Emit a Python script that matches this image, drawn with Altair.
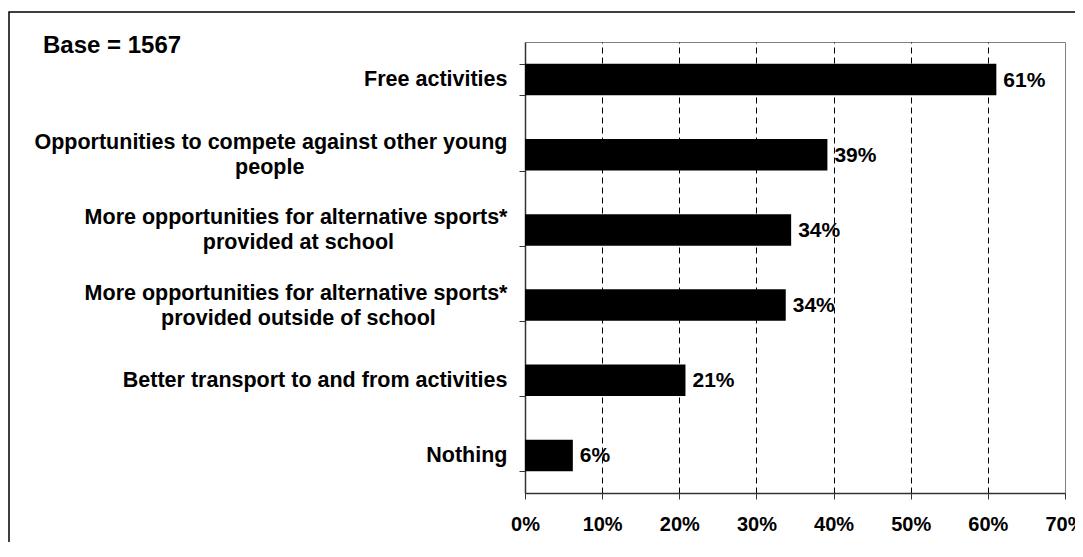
import altair as alt
import pandas as pd

FONT = "Liberation Sans"

CATEGORY_LINES = [
    ["Free activities"],
    ["Opportunities to compete against other young", "people"],
    ["More opportunities for alternative sports*", "provided at school"],
    ["More opportunities for alternative sports*", "provided outside of school"],
    ["Better transport to and from activities"],
    ["Nothing"],
]
VALUES = [61.1, 39.2, 34.5, 33.8, 20.8, 6.2]
VALUE_LABELS = ["61%", "39%", "34%", "34%", "21%", "6%"]
X_TICKS = [0, 10, 20, 30, 40, 50, 60, 70]
BASE_TEXT = "Base = 1567"

# Helvetica/Arial Bold advance widths (1/1000 em) used to centre the second label line
W = {" ": 278, "*": 389, "%": 889, "a": 556, "b": 611, "c": 556, "d": 611, "e": 556,
     "f": 333, "g": 611, "h": 611, "i": 278, "j": 278, "k": 556, "l": 278, "m": 889,
     "n": 611, "o": 611, "p": 611, "q": 611, "r": 389, "s": 556, "t": 333, "u": 611,
     "v": 556, "w": 778, "x": 556, "y": 556, "z": 500, "B": 722, "F": 611, "M": 833,
     "N": 722, "O": 778}


def text_width(s):
    return sum(W.get(ch, 556) for ch in s)


def make_label(lines):
    first = lines[0]
    out = [first]
    for ln in lines[1:]:
        pad = round((text_width(first) - text_width(ln)) / 2 / 278)
        # non-breaking spaces (kept alive by a trailing zero-width space) centre the line
        out.append(ln + "\u00a0" * max(pad, 0) + "\u200b")
    return "|".join(out)


LABELS = [make_label(l) for l in CATEGORY_LINES]

df = pd.DataFrame({"label": LABELS, "value": VALUES, "text": VALUE_LABELS})

y_enc = alt.Y(
    "label:N",
    sort=LABELS,
    scale=alt.Scale(paddingInner=0.58, paddingOuter=0.29),
    axis=alt.Axis(
        title=None,
        labelExpr="isValid(datum.value) ? split(datum.value, '|') : ''",
        labelAlign="right",
        labelBaseline="middle",
        labelFont=FONT,
        labelFontSize=21.5,
        labelFontWeight="bold",
        labelColor="black",
        labelLineHeight=25,
        labelPadding=12,
        labelLimit=0,
        labelOffset=alt.condition("isValid(datum.value) && indexof(datum.value, '|') >= 0",
                                  alt.value(-12), alt.value(0)),
        tickBand="extent",
        tickSize=6,
        tickColor="#333333",
        domainColor="#333333",
        domainWidth=1.5,
        grid=False,
    ),
)

x_enc = alt.X(
    "value:Q",
    scale=alt.Scale(domain=[0, 70], nice=False),
    axis=alt.Axis(
        title=None,
        values=X_TICKS,
        labelExpr="datum.value + '%'",
        labelFont=FONT,
        labelFontSize=20,
        labelFontWeight="bold",
        labelColor="black",
        labelPadding=15,
        labelFlush=False,
        tickSize=6,
        tickColor="#333333",
        domainColor="#333333",
        domainWidth=1.5,
        grid=True,
        gridColor="black",
        gridDash=[6, 4],
        gridWidth=1,
        gridOpacity=alt.condition("datum.value == 0 || datum.value == 70", alt.value(0), alt.value(1)),
    ),
)

bars = alt.Chart(df).mark_bar(color="black").encode(y=y_enc, x=x_enc)

texts = alt.Chart(df).mark_text(
    align="left", baseline="middle", dx=7, dy=1, font=FONT, fontSize=21, fontWeight="bold", color="black"
).encode(y=alt.Y("label:N", sort=LABELS), x="value:Q", text="text:N")

frame = alt.Chart(alt.Data(values=[{"f": 1}])).mark_rect(
    fill="transparent", stroke="black", strokeWidth=1.5, clip=False
).encode(x=alt.value(-516), x2=alt.value(600), y=alt.value(-30), y2=alt.value(560))

base_note = alt.Chart(alt.Data(values=[{"t": BASE_TEXT}])).mark_text(
    align="left", baseline="alphabetic", font=FONT, fontSize=24, fontWeight="bold", color="black", clip=False
).encode(text="t:N", x=alt.value(-482), y=alt.value(11))

chart = alt.layer(frame, bars, texts, base_note).properties(
    width=540,
    height=451,
    padding={"left": 517, "top": 34, "right": 10, "bottom": 49},
    autosize=alt.AutoSizeParams(type="none"),
).configure_view(stroke="#808080", strokeWidth=1)

chart.save("out.html", embed_options={"renderer": "svg", "actions": False})
